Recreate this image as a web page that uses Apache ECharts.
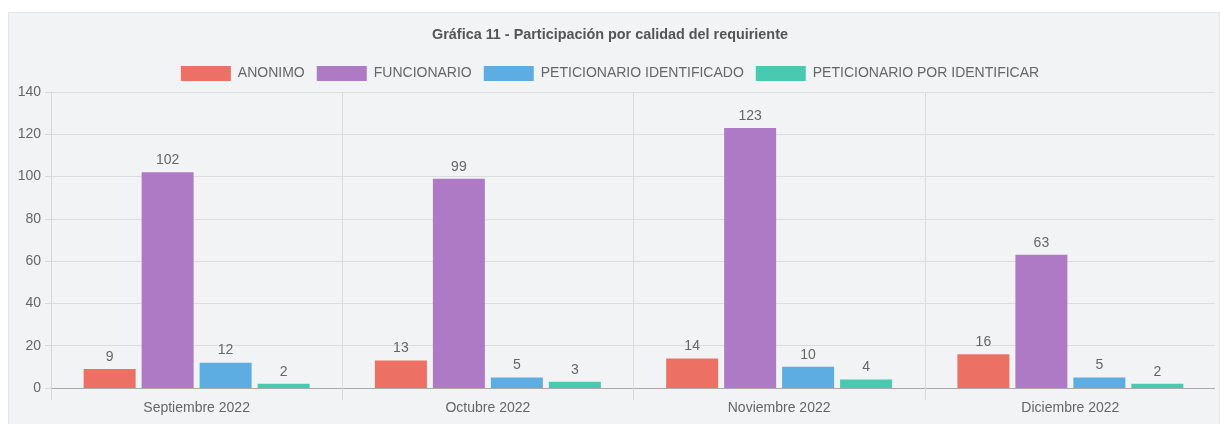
<!DOCTYPE html>
<html><head><meta charset="utf-8">
<script src="https://cdn.jsdelivr.net/npm/echarts@6/dist/echarts.min.js"></script>
<style>
html,body{margin:0;padding:0;background:#fff;width:1220px;height:424px;overflow:hidden;}
#box{position:absolute;left:8px;top:12px;width:1212px;height:420px;background:#f2f3f5;border:1px solid #e3e4e6;box-sizing:border-box;}
#c{position:absolute;left:0;top:0;width:1220px;height:424px;}
</style></head><body>
<div id="box"></div>
<div id="c"></div>
<script>
const titleText = 'Gráfica 11 - Participación por calidad del requiriente';
const categories = ['Septiembre 2022','Octubre 2022','Noviembre 2022','Diciembre 2022'];
const seriesNames = ['ANONIMO','FUNCIONARIO','PETICIONARIO IDENTIFICADO','PETICIONARIO POR IDENTIFICAR'];
const anonimo = [9,13,14,16];
const funcionario = [102,99,123,63];
const petIdentificado = [12,5,10,5];
const petPorIdentificar = [2,3,4,2];
const colors = ['#ec7063','#af7ac5','#5dade2','#48c9b0'];
const dataSets = [anonimo,funcionario,petIdentificado,petPorIdentificar];

const chart = echarts.init(document.getElementById('c'), null, {renderer:'canvas'});
const font = 'Arial, "Liberation Sans", sans-serif';
chart.setOption({
  animation:false,
  textStyle:{fontFamily:font},
  title:{text:titleText,left:'center',top:23,textStyle:{fontSize:14.4,fontWeight:'bold',color:'#555',fontFamily:font}},
  legend:{top:61,left:'center',itemWidth:50,itemHeight:15,itemGap:12,icon:'rect',
    textStyle:{fontSize:14,color:'#666',fontFamily:font,padding:[0,0,0,2]},data:seriesNames},
  grid:{left:51,right:4,top:92,bottom:36,containLabel:false},
  xAxis:{type:'category',data:categories,boundaryGap:true,
    axisLine:{lineStyle:{color:'#aaa'}},
    axisTick:{show:true,length:12,lineStyle:{color:'#d8d8d8'}},
    splitLine:{show:true,lineStyle:{color:'#dcdcdc'}},
    axisLabel:{color:'#666',fontSize:14,margin:13,fontFamily:font}},
  yAxis:{type:'value',min:0,max:140,interval:20,
    axisLine:{show:true,lineStyle:{color:'#d8d8d8'}},
    axisTick:{show:true,length:6,lineStyle:{color:'#d8d8d8'}},
    splitLine:{lineStyle:{color:'#dcdcdc'}},
    axisLabel:{color:'#666',fontSize:14,margin:10,fontFamily:font}},
  graphic:[{type:'rect',shape:{x:1215,y:88,width:4,height:318},style:{fill:'#f2f3f5'},z:100}],
  series: seriesNames.map((n,i)=>({
    name:n,type:'bar',data:dataSets[i],barWidth:52,barGap:'11.5%',
    itemStyle:{color:colors[i]},
    label:{show:true,position:'top',distance:5,color:'#666',fontSize:14,fontFamily:font}
  }))
});
</script>
</body></html>
